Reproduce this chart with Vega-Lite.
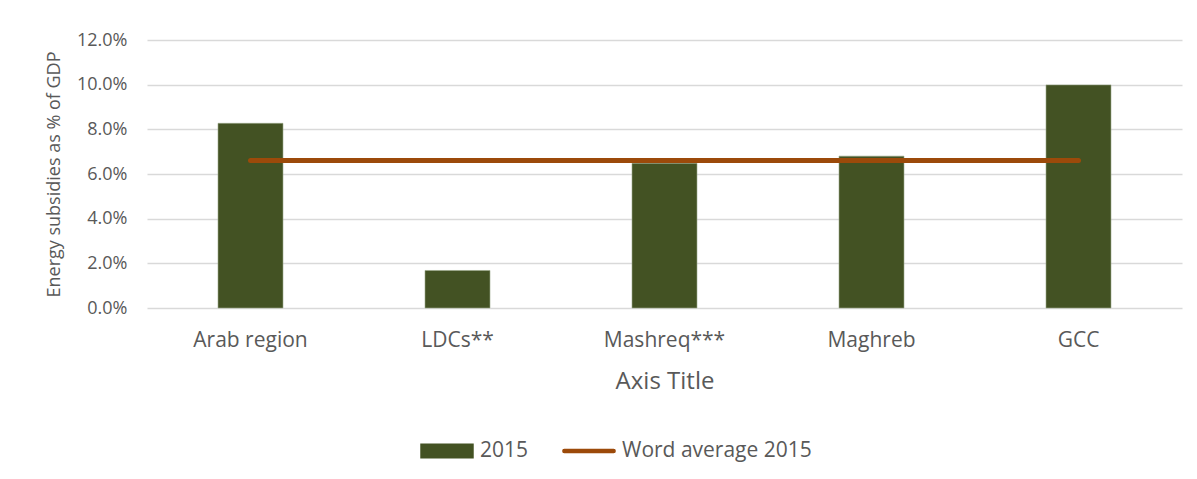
{
  "$schema": "https://vega.github.io/schema/vega-lite/v6.json",
  "autosize": {"type": "none"},
  "padding": {"left": 147, "top": 40, "right": 15, "bottom": 171},
  "width": 1035,
  "height": 268,
  "background": "#ffffff",
  "config": {
    "font": "Open Sans",
    "view": {"stroke": null},
    "axis": {"labelColor": "#595959", "titleColor": "#595959", "titleFontWeight": "normal", "labelFont": "Open Sans", "titleFont": "Open Sans"},
    "legend": {"labelColor": "#595959", "labelFont": "Open Sans", "labelLimit": 0}
  },
  "data": {
    "values": [
      {"region": "Arab region", "value": 0.0827, "avg": 0.066, "s1": "2015", "s2": "Word average 2015"},
      {"region": "LDCs**", "value": 0.0168, "avg": 0.066, "s1": "2015", "s2": "Word average 2015"},
      {"region": "Mashreq***", "value": 0.0648, "avg": 0.066, "s1": "2015", "s2": "Word average 2015"},
      {"region": "Maghreb", "value": 0.068, "avg": 0.066, "s1": "2015", "s2": "Word average 2015"},
      {"region": "GCC", "value": 0.0999, "avg": 0.066, "s1": "2015", "s2": "Word average 2015"}
    ]
  },
  "encoding": {
    "x": {
      "field": "region",
      "type": "nominal",
      "sort": null,
      "scale": {"paddingInner": 0.686, "paddingOuter": 0.343},
      "axis": {
        "title": "Axis Title",
        "titleFontSize": 24,
        "titlePadding": 19,
        "labelFontSize": 21,
        "labelAngle": 0,
        "labelPadding": 21,
        "ticks": false,
        "domain": false,
        "grid": false
      }
    }
  },
  "layer": [
    {
      "mark": {"type": "bar", "stroke": "#9aa88a", "strokeWidth": 0.6},
      "encoding": {
        "y": {
          "field": "value",
          "type": "quantitative",
          "scale": {"domain": [0, 0.12], "nice": false},
          "axis": {
            "title": "Energy subsidies as % of GDP",
            "titleFontSize": 18,
            "titlePadding": 13,
            "format": ".1%",
            "values": [0, 0.02, 0.04, 0.06, 0.08, 0.1, 0.12],
            "labelFontSize": 18,
            "labelPadding": 20,
            "ticks": false,
            "domain": false,
            "grid": true,
            "gridColor": "#D9D9D9",
            "gridWidth": 1.3
          }
        },
        "color": {
          "field": "s1",
          "type": "nominal",
          "title": null,
          "scale": {"domain": ["2015", "Word average 2015"], "range": ["#435223", "#9C4A0A"]},
          "legend": {
            "orient": "none",
            "legendX": 273,
            "legendY": 384,
            "direction": "horizontal",
            "labelFontSize": 21,
            "labelOffset": 6,
            "labelLimit": 0,
            "columnPadding": 30,
            "symbolSize": 2700,
            "encode": {
              "symbols": {
                "update": {
                  "shape": {"signal": "datum.value === '2015' ? 'M-1,-0.26H1V0.26H-1Z' : 'M-0.95,-0.055H0.95A0.055,0.055,0,0,1,0.95,0.055H-0.95A0.055,0.055,0,0,1,-0.95,-0.055Z'"},
                  "fill": {"signal": "datum.value === '2015' ? '#435223' : '#9C4A0A'"},
                  "stroke": {"value": "transparent"},
                  "opacity": {"value": 1}
                }
              }
            }
          }
        }
      }
    },
    {
      "mark": {"type": "line", "strokeWidth": 5, "strokeCap": "round"},
      "encoding": {
        "y": {"field": "avg", "type": "quantitative"},
        "color": {
          "field": "s2",
          "type": "nominal",
          "title": null,
          "legend": {
            "orient": "none",
            "legendX": 273,
            "legendY": 384,
            "direction": "horizontal",
            "labelFontSize": 21,
            "labelOffset": 6,
            "labelLimit": 0,
            "columnPadding": 30,
            "symbolSize": 2700,
            "encode": {
              "symbols": {
                "update": {
                  "shape": {"signal": "datum.value === '2015' ? 'M-1,-0.26H1V0.26H-1Z' : 'M-0.95,-0.055H0.95A0.055,0.055,0,0,1,0.95,0.055H-0.95A0.055,0.055,0,0,1,-0.95,-0.055Z'"},
                  "fill": {"signal": "datum.value === '2015' ? '#435223' : '#9C4A0A'"},
                  "stroke": {"value": "transparent"},
                  "opacity": {"value": 1}
                }
              }
            }
          }
        }
      }
    }
  ]
}
